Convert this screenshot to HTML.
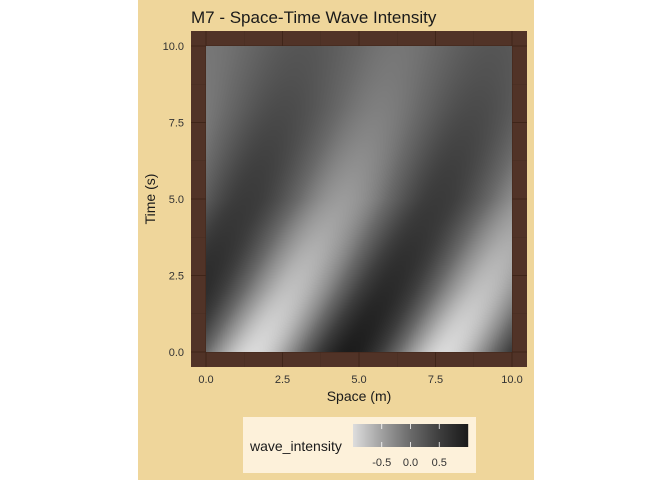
<!DOCTYPE html>
<html><head><meta charset="utf-8"><style>
body{margin:0;width:672px;height:480px;background:#fff;font-family:"Liberation Sans",sans-serif;position:relative;overflow:hidden}
.abs{position:absolute}
</style></head><body>
<div class="abs" style="left:138px;top:0;width:396px;height:480px;background:#efd69b"></div>
<svg class="abs" style="left:0;top:0" width="672" height="480">
<rect x="191" y="31" width="336" height="336" fill="#513327"/>
<g id="grid"></g>
<text x="191" y="23" font-size="17" fill="#1a1a1a">M7 - Space-Time Wave Intensity</text>
<g id="ticks" font-size="11" fill="#333"></g>
<text x="359" y="401" font-size="14" text-anchor="middle" fill="#1a1a1a">Space (m)</text>
<text transform="translate(155,199) rotate(-90)" font-size="14" text-anchor="middle" fill="#1a1a1a">Time (s)</text>
<rect x="243" y="417" width="233" height="56" fill="#fdf1da"/>
<text x="250" y="451" font-size="14" fill="#1a1a1a">wave_intensity</text>
<g id="leg"></g>
</svg>
<canvas id="c" class="abs" width="306" height="306" style="left:206px;top:46px"></canvas>
<script>
// data per time row (t = 0..10)
const times=[0,1,2,3,4,5,6,7,8,9,10];
const amplitude=[0.97,0.87,0.77,0.68,0.58,0.5,0.42,0.34,0.27,0.21,0.17];
const phaseShift=[0,0.6,1.2,1.75,2.3,2.9,3.3,3.7,4.1,4.4,4.7];
const offset=[0,0,0.01,0.02,0.03,0.05,0.07,0.08,0.08,0.07,0.06];
const xTicks=[0,2.5,5,7.5,10];
const yTicks=[0,2.5,5,7.5,10];
const xLabels=["0.0","2.5","5.0","7.5","10.0"];
const yLabels=["0.0","2.5","5.0","7.5","10.0"];
const legendBreaks=[-0.5,0,0.5];
const legendLabels=["-0.5","0.0","0.5"];
const fillMin=-1, fillMax=1;
const colorStops=[-1,-0.5,0,0.5,1];
const colorGrays=[221,160,106,62,26];

const X0=206,X1=512,Y0=352,Y1=46;
const sx=v=>X0+(X1-X0)*v/10, sy=v=>Y0+(Y1-Y0)*v/10;
function col(v){v=Math.max(fillMin,Math.min(fillMax,v));
 for(let i=0;i<colorStops.length-1;i++){if(v<=colorStops[i+1]){const f=(v-colorStops[i])/(colorStops[i+1]-colorStops[i]);return Math.round(colorGrays[i]*(1-f)+colorGrays[i+1]*f);}}
 return colorGrays[colorGrays.length-1];}
function interp(arr,t){let i=Math.min(9,Math.floor(t));let f=t-i;return arr[i]*(1-f)+arr[i+1]*f;}
const c=document.getElementById('c'),ctx=c.getContext('2d');
const img=ctx.createImageData(306,306);
for(let py=0;py<306;py++){const t=10*(305-py)/305;const a=interp(amplitude,t),s=interp(phaseShift,t),o=interp(offset,t);
 for(let px=0;px<306;px++){const x=10*px/305;const v=o-a*Math.sin(x-s);const g=col(v);const k=(py*306+px)*4;img.data[k]=img.data[k+1]=img.data[k+2]=g;img.data[k+3]=255;}}
ctx.putImageData(img,0,0);
const NS="http://www.w3.org/2000/svg";
const grid=document.getElementById('grid'),tk=document.getElementById('ticks');
function mk(tag,at,parent){const e=document.createElementNS(NS,tag);for(const k in at)e.setAttribute(k,at[k]);parent.appendChild(e);return e;}
[1.25,3.75,6.25,8.75].forEach(v=>{
 const l=mk('line',{x1:sx(v),x2:sx(v),y1:31,y2:367,stroke:'#482c20','stroke-width':0.5},grid);
 
 const m=mk('line',{y1:sy(v),y2:sy(v),x1:191,x2:527,stroke:'#482c20','stroke-width':0.5},grid);
 
});
xTicks.forEach((v,i)=>{
 const l=mk('line',{x1:sx(v),x2:sx(v),y1:31,y2:367,stroke:'#3f2519','stroke-width':1},grid);
 
 const t=mk('text',{x:sx(v),y:383,'text-anchor':'middle'},tk);t.textContent=xLabels[i];
 
});
yTicks.forEach((v,i)=>{
 const l=mk('line',{y1:sy(v),y2:sy(v),x1:191,x2:527,stroke:'#3f2519','stroke-width':1},grid);
 
 const t=mk('text',{x:184,y:sy(v)+4,'text-anchor':'end'},tk);t.textContent=yLabels[i];
 
});
// legend gradient
const leg=document.getElementById('leg');
const LX0=353,LX1=468,lx=v=>LX0+(LX1-LX0)*(v-fillMin)/(fillMax-fillMin);
for(let i=0;i<115;i++){const v=fillMin+(fillMax-fillMin)*(i+0.5)/115;const g=col(v);
 const r=mk('rect',{x:LX0+i,y:424,width:1.2,height:23,fill:`rgb(${g},${g},${g})`},leg);
 }
legendBreaks.forEach((v,i)=>{
 const l=mk('line',{x1:lx(v),x2:lx(v),y1:424,y2:429,stroke:'#fff','stroke-width':0.8},leg);
 
 const l2=mk('line',{x1:lx(v),x2:lx(v),y1:442,y2:447,stroke:'#fff','stroke-width':0.8},leg);
 
 const t=mk('text',{x:lx(v),y:466,'text-anchor':'middle','font-size':11,fill:'#333'},leg);t.textContent=legendLabels[i];
 
});
</script>
</body></html>
